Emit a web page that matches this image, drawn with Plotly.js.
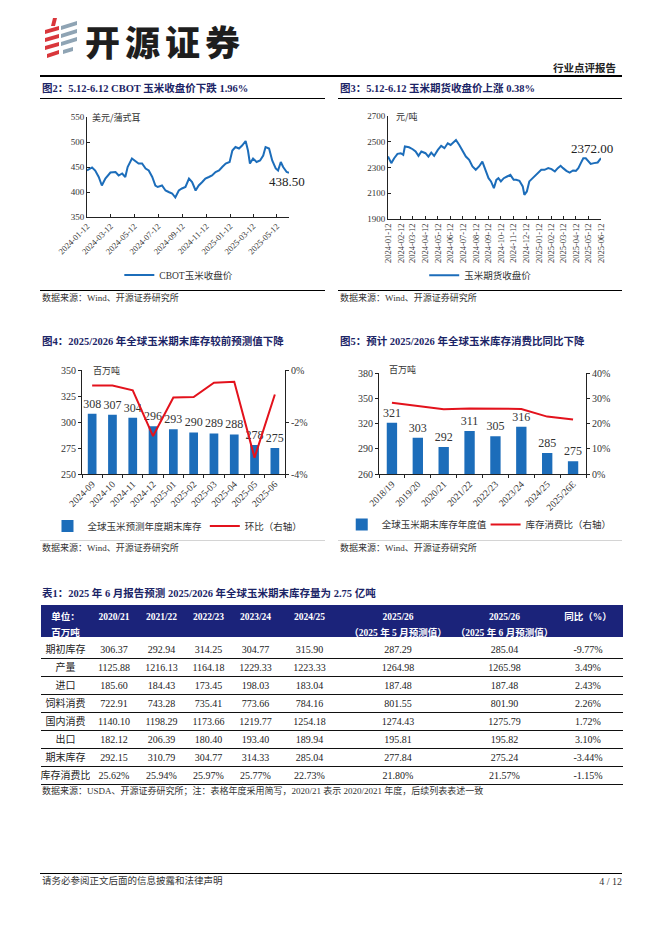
<!DOCTYPE html>
<html><head><meta charset="utf-8">
<script src="https://cdn.plot.ly/plotly-3.0.1.min.js"></script>
<style>
body{margin:0;background:#fff;}
#page{position:relative;width:662px;height:936px;overflow:hidden;background:#fff;font-family:'Liberation Serif','Noto Sans CJK SC',serif;color:#222;}
.t{position:absolute;white-space:nowrap;line-height:1;transform:translateY(-50%);}
.ftitle{font-weight:bold;color:#1b2466;font-size:10.5px;}
.rule{position:absolute;background:#000;height:1px;}
.src{font-size:9px;color:#333;}
.chart{position:absolute;}
</style></head>
<body><div id="page">
<svg style="position:absolute;left:43px;top:16px" width="40" height="44" viewBox="0 0 40 44">
  <polygon points="10,2 14,2 12,10 8,10" fill="#d9363b"/>
  <polygon points="2,14 16,10 16,14 2,18" fill="#d9363b"/>
  <polygon points="2,22 16,18 16,22 2,26" fill="#d9363b"/>
  <polygon points="2,30 16,26 16,30 2,34" fill="#d9363b"/>
  <polygon points="4,38 16,34 16,38 4,42" fill="#d9363b"/>
  <polygon points="18,10 34,5 34,9 18,14" fill="#8fa4b4"/>
  <polygon points="18,18 34,13 34,17 18,22" fill="#8fa4b4"/>
  <polygon points="18,26 34,21 34,25 18,30" fill="#8fa4b4"/>
  <polygon points="20,34 30,31 30,35 20,38" fill="#8fa4b4"/>
</svg>
<div class="t" style="left:85px;top:40px;font-family:'Noto Sans CJK SC';font-weight:900;font-size:35px;color:#1e1e1e;letter-spacing:5px;">开源证券</div>
<div class="t" style="right:46px;top:68px;font-family:'Noto Sans CJK SC';font-weight:bold;font-size:10.5px;">行业点评报告</div>
<div class="rule" style="left:40px;top:75px;width:582px;height:1.5px;"></div>

<div class="t ftitle" style="left:42px;top:89px;">图2：5.12-6.12 CBOT 玉米收盘价下跌 1.96%</div>
<div class="rule" style="left:40px;top:98px;width:285px;"></div>
<div class="t ftitle" style="left:340px;top:89px;">图3：5.12-6.12 玉米期货收盘价上涨 0.38%</div>
<div class="rule" style="left:338px;top:98px;width:284px;"></div>
<div id="c2" class="chart" style="left:30px;top:100px;width:300px;height:190px;"></div>
<div id="c3" class="chart" style="left:335px;top:100px;width:300px;height:190px;"></div>
<div class="rule" style="left:40px;top:290px;width:285px;"></div>
<div class="rule" style="left:338px;top:290px;width:284px;"></div>
<div class="t src" style="left:42px;top:298px;">数据来源：Wind、开源证券研究所</div>
<div class="t src" style="left:340px;top:298px;">数据来源：Wind、开源证券研究所</div>

<div class="t ftitle" style="left:42px;top:342px;">图4：2025/2026 年全球玉米期末库存较前预测值下降</div>
<div class="rule" style="left:40px;top:351px;width:285px;"></div>
<div class="t ftitle" style="left:340px;top:342px;">图5：预计 2025/2026 年全球玉米库存消费比同比下降</div>
<div class="rule" style="left:338px;top:351px;width:284px;"></div>
<div id="c4" class="chart" style="left:30px;top:350px;width:300px;height:190px;"></div>
<div id="c5" class="chart" style="left:335px;top:350px;width:300px;height:190px;"></div>
<div class="rule" style="left:40px;top:540px;width:285px;background:#d4d4d4;"></div>
<div class="rule" style="left:338px;top:540px;width:284px;background:#d4d4d4;"></div>
<div class="t src" style="left:42px;top:548px;">数据来源：Wind、开源证券研究所</div>
<div class="t src" style="left:340px;top:548px;">数据来源：Wind、开源证券研究所</div>

<div class="t ftitle" style="left:42px;top:594px;">表1：2025 年 6 月报告预测 2025/2026 年全球玉米期末库存量为 2.75 亿吨</div>
<div id="tbl" class="chart" style="left:41px;top:605px;width:582px;height:184px;"></div>
<div class="t src" style="left:42px;top:791px;">数据来源：USDA、开源证券研究所；注：表格年度采用简写，2020/21 表示 2020/2021 年度，后续列表表述一致</div>

<div class="rule" style="left:40px;top:873px;width:582px;"></div>
<div class="t" style="left:42px;top:882px;font-size:9.5px;color:#333;">请务必参阅正文后面的信息披露和法律声明</div>
<div class="t" style="right:40px;top:882px;font-size:10px;color:#333;">4 / 12</div>
</div>
<script>
// ---------- data ----------
var cbotDates = ['2024-01-12','2024-01-25','2024-02-02','2024-02-11','2024-02-19','2024-02-28','2024-03-12','2024-03-25','2024-04-02','2024-04-11','2024-04-19','2024-04-25','2024-05-06','2024-05-12','2024-05-23','2024-06-01','2024-06-10','2024-06-18','2024-06-27','2024-07-05','2024-07-11','2024-07-22','2024-07-31','2024-08-08','2024-08-17','2024-08-25','2024-09-03','2024-09-11','2024-09-20','2024-09-29','2024-10-07','2024-10-16','2024-10-24','2024-11-02','2024-11-10','2024-11-19','2024-11-27','2024-12-06','2024-12-15','2024-12-23','2025-01-01','2025-01-11','2025-01-18','2025-01-26','2025-02-04','2025-02-12','2025-02-21','2025-02-27','2025-03-04','2025-03-12','2025-03-21','2025-03-30','2025-04-07','2025-04-13','2025-04-22','2025-04-30','2025-05-09','2025-05-15','2025-05-22','2025-05-28','2025-06-06','2025-06-12'];
var cbotValues = [443,449,443,430,413,427,439,440,433,437,430,450,467,463,457,457,447,443,430,413,410,413,403,400,397,389,403,407,410,427,420,403,413,420,427,430,433,440,443,450,457,460,483,490,487,493,502,483,457,467,460,463,473,490,487,463,447,443,460,450,440,438.5];

var dceDates = ['2024-01-12','2024-01-20','2024-01-27','2024-02-04','2024-02-12','2024-02-18','2024-02-22','2024-03-03','2024-03-12','2024-03-19','2024-03-26','2024-04-02','2024-04-12','2024-04-19','2024-04-26','2024-05-03','2024-05-12','2024-05-20','2024-05-28','2024-06-05','2024-06-12','2024-06-20','2024-06-25','2024-07-03','2024-07-12','2024-07-19','2024-07-27','2024-08-04','2024-08-12','2024-08-20','2024-08-28','2024-09-05','2024-09-12','2024-09-18','2024-09-25','2024-10-01','2024-10-06','2024-10-12','2024-10-19','2024-10-27','2024-11-04','2024-11-12','2024-11-18','2024-11-26','2024-12-04','2024-12-08','2024-12-14','2024-12-20','2024-12-28','2025-01-05','2025-01-12','2025-01-18','2025-01-26','2025-02-04','2025-02-12','2025-02-20','2025-02-27','2025-03-06','2025-03-12','2025-03-20','2025-03-28','2025-04-05','2025-04-12','2025-04-18','2025-04-24','2025-04-30','2025-05-06','2025-05-12','2025-05-18','2025-05-26','2025-06-04','2025-06-12'];
var dceValues = [2385,2334,2372,2406,2411,2398,2463,2457,2442,2424,2390,2424,2411,2385,2416,2390,2437,2468,2450,2488,2475,2501,2514,2475,2424,2385,2359,2308,2282,2308,2346,2269,2217,2192,2140,2204,2217,2192,2217,2230,2243,2204,2204,2197,2153,2088,2114,2192,2217,2243,2269,2282,2282,2295,2287,2269,2295,2313,2295,2274,2261,2277,2274,2295,2334,2372,2372,2354,2328,2334,2339,2372];

var forecastMonths = ['2024-09','2024-10','2024-11','2024-12','2025-01','2025-02','2025-03','2025-04','2025-05','2025-06'];
var forecastStocks = [308,307,304,296,293,290,289,288,278,275];
var forecastMoM = [-0.60,-0.60,-0.78,-2.54,-1.06,-1.04,-0.49,-0.45,-3.37,-0.94];
var momTickVals = [-4,-2,0];
var momTickText = ['-4%','-2%','0%'];

var cropYears = ['2018/19','2019/20','2020/21','2021/22','2022/23','2023/24','2024/25','2025/26E'];
var cropStocks = [321,303,292,311,305,316,285,275];
var stockUseRatio = [28.2,27.0,25.62,25.94,25.97,25.77,22.73,21.57];

// non-breaking spaces keep the header notes on one line
var tableHeaderTop = ['单位：','2020/21','2021/22','2022/23','2023/24','2024/25','2025/26','2025/26','同比（%）'];
var tableHeaderBottom = ['百万吨','','','','','','（2025\u00a0年\u00a05\u00a0月预测值）','（2025\u00a0年\u00a06\u00a0月预测值）',''];
var rowLabels = ['期初库存','产量','进口','饲料消费','国内消费','出口','期末库存','库存消费比'];
var col2020 = ['306.37','1125.88','185.60','722.91','1140.10','182.12','292.15','25.62%'];
var col2021 = ['292.94','1216.13','184.43','743.28','1198.29','206.39','310.79','25.94%'];
var col2022 = ['314.25','1164.18','173.45','735.41','1173.66','180.40','304.77','25.97%'];
var col2023 = ['304.77','1229.33','198.03','773.66','1219.77','193.40','314.33','25.77%'];
var col2024 = ['315.90','1223.33','183.04','784.16','1254.18','189.94','285.04','22.73%'];
var col2025May = ['287.29','1264.98','187.48','801.55','1274.43','195.81','277.84','21.80%'];
var col2025Jun = ['285.04','1265.98','187.48','801.90','1275.79','195.82','275.24','21.57%'];
var colYoY = ['-9.77%','3.49%','2.43%','2.26%','1.72%','3.10%','-3.44%','-1.15%'];

// ---------- styles ----------
var SERIF = 'Liberation Serif, Noto Sans CJK SC, serif';
var CJK = 'Noto Sans CJK SC, Liberation Serif, sans-serif';
var BLUE = '#1c6dba';
var RED = '#e3121c';
var NAVY = '#1b237a';
var cfg = {displayModeBar:false, staticPlot:true};
function axisBase(extra){
  var a = {showline:true, linecolor:'#222', linewidth:1, showgrid:false, zeroline:false, automargin:false,
    ticks:'inside', ticklen:3, tickcolor:'#222', tickfont:{family:SERIF,size:9,color:'#333'}};
  for (var k in extra) a[k]=extra[k];
  return a;
}
function unitNote(txt, x, y){
  return {xref:'paper', yref:'paper', x:x, y:y, xanchor:'left', yanchor:'middle', showarrow:false,
    text:txt, font:{family:CJK, size:9, color:'#333'}};
}
function legendAt(x, y, fam){
  return {orientation:'h', x:x, y:y, xanchor:'left', yanchor:'middle', font:{family:fam,size:9.5,color:'#333'}, itemwidth:30, bgcolor:'rgba(0,0,0,0)'};
}

// Fig 2
var n2 = cbotValues.length;
Plotly.newPlot('c2', [{
  type:'scatter', mode:'lines', x:cbotDates, y:cbotValues, name:'CBOT玉米收盘价',
  line:{color:BLUE, width:2}
}], {
  width:300, height:190, margin:{l:57,r:41,t:17,b:73,pad:0,autoexpand:false},
  paper_bgcolor:'#fff', plot_bgcolor:'#fff',
  xaxis:axisBase({type:'date', range:['2024-01-12','2025-06-12'], tick0:'2024-01-12', dtick:'M2', tickformat:'%Y-%m-%d', tickangle:-45, tickfont:{family:SERIF,size:8.5,color:'#333'}}),
  yaxis:axisBase({range:[350,550], tick0:350, dtick:50}),
  showlegend:true,
  legend:legendAt(0.16, -0.58, SERIF),
  annotations:[unitNote('美元/蒲式耳', 0.015, 1.0),
    {x:cbotDates[n2-1], y:cbotValues[n2-1], text:cbotValues[n2-1].toFixed(2), showarrow:false, xanchor:'center', yanchor:'middle', xshift:-2, yshift:-9, font:{family:SERIF,size:13,color:'#222'}}]
}, cfg);

// Fig 3
var n3 = dceValues.length;
Plotly.newPlot('c3', [{
  type:'scatter', mode:'lines', x:dceDates, y:dceValues, name:'玉米期货收盘价',
  line:{color:BLUE, width:2}
}], {
  width:300, height:190, margin:{l:53,r:34,t:16,b:71,pad:0,autoexpand:false},
  paper_bgcolor:'#fff', plot_bgcolor:'#fff',
  xaxis:axisBase({type:'date', range:['2024-01-12','2025-06-12'], tick0:'2024-01-12', dtick:'M1', tickformat:'%Y-%m-%d', tickangle:-90, tickfont:{family:SERIF,size:8.5,color:'#333'}}),
  yaxis:axisBase({range:[1900,2700], tick0:1900, dtick:200}),
  showlegend:true,
  legend:legendAt(0.17, -0.545, SERIF),
  annotations:[unitNote('元/吨', 0.03, 1.0),
    {x:dceDates[n3-1], y:dceValues[n3-1], text:dceValues[n3-1].toFixed(2), showarrow:false, xanchor:'center', yanchor:'middle', xshift:-9, yshift:10, font:{family:SERIF,size:13,color:'#222'}}]
}, cfg);

// Fig 4
Plotly.newPlot('c4', [
  {type:'bar', x:forecastMonths, y:forecastStocks, name:'全球玉米预测年度期末库存', marker:{color:BLUE}, width:0.43,
   text:forecastStocks.map(String), textposition:'outside', constraintext:'none', cliponaxis:false, textfont:{family:SERIF,size:12,color:'#333'}, legend:'legend'},
  {type:'scatter', mode:'lines', x:forecastMonths, y:forecastMoM, yaxis:'y2', name:'环比（右轴）', line:{color:RED, width:2}, legend:'legend2'}
], {
  width:300, height:190, margin:{l:52,r:45,t:20,b:66,pad:0,autoexpand:false},
  paper_bgcolor:'#fff', plot_bgcolor:'#fff',
  xaxis:axisBase({type:'category', tickangle:-45, ticks:'outside', tickson:'boundaries', tickfont:{family:SERIF,size:9.5,color:'#333'}}),
  yaxis:axisBase({range:[250,350], tick0:250, dtick:25, ticks:'outside', tickfont:{family:SERIF,size:10,color:'#333'}}),
  yaxis2:axisBase({overlaying:'y', side:'right', range:[-4,0], tickvals:momTickVals, ticktext:momTickText, ticks:'outside', tickfont:{family:SERIF,size:10,color:'#333'}}),
  showlegend:true,
  legend:legendAt(-0.17, -0.5, CJK),
  legend2:legendAt(0.605, -0.5, CJK),
  annotations:[unitNote('百万吨', 0.045, 1.0)]
}, cfg);

// Fig 5
Plotly.newPlot('c5', [
  {type:'bar', x:cropYears, y:cropStocks, name:'全球玉米期末库存年度值', marker:{color:BLUE}, width:0.4,
   text:cropStocks.map(String), textposition:'outside', constraintext:'none', cliponaxis:false, textfont:{family:SERIF,size:12,color:'#333'}, legend:'legend'},
  {type:'scatter', mode:'lines', x:cropYears, y:stockUseRatio, yaxis:'y2', name:'库存消费比（右轴）', line:{color:RED, width:2}, legend:'legend2'}
], {
  width:300, height:190, margin:{l:44,r:49,t:23,b:66,pad:0,autoexpand:false},
  paper_bgcolor:'#fff', plot_bgcolor:'#fff',
  xaxis:axisBase({type:'category', tickangle:-45, ticks:'outside', tickson:'boundaries', tickfont:{family:SERIF,size:9.5,color:'#333'}}),
  yaxis:axisBase({range:[260,380], tick0:260, dtick:30, ticks:'outside', tickfont:{family:SERIF,size:10,color:'#333'}}),
  yaxis2:axisBase({overlaying:'y', side:'right', range:[0,40], tick0:0, dtick:10, ticksuffix:'%', ticks:'outside', tickfont:{family:SERIF,size:10,color:'#333'}}),
  showlegend:true,
  legend:legendAt(-0.18, -0.5, CJK),
  legend2:legendAt(0.515, -0.5, CJK),
  annotations:[unitNote('百万吨', 0.04, 1.03)]
}, cfg);

// Table
var HEADER_ROW_H = 16, ROW_H = 18, TBL_H = 184, TEXT_DROP = 3.5;
var headerH = 2*HEADER_ROW_H;
var shapes = [];
for (var i = 1; i <= rowLabels.length; i++) {
  var py = headerH + i*ROW_H + TEXT_DROP;
  shapes.push({type:'line', xref:'paper', yref:'paper', x0:0, x1:1, y0:1-py/TBL_H, y1:1-py/TBL_H, line:{color:'#111', width:1}});
}
var colFonts = [CJK, SERIF, SERIF, SERIF, SERIF, SERIF, SERIF, SERIF, SERIF];
var headerValues = tableHeaderTop.map(function(s, j){ return [s, tableHeaderBottom[j]]; });
Plotly.newPlot('tbl', [{
  type:'table',
  columnwidth:[49,48,47,47,47,61,116,97,70],
  header:{values:headerValues, align:'center', height:HEADER_ROW_H,
    fill:{color:NAVY}, line:{color:NAVY, width:0}, font:{family:SERIF, size:9.5, color:'#fff', weight:'bold'}},
  cells:{values:[rowLabels,col2020,col2021,col2022,col2023,col2024,col2025May,col2025Jun,colYoY], align:'center', height:ROW_H,
    fill:{color:'#fff'}, line:{color:'#fff', width:0}, font:{family:colFonts, size:10, color:'#222'}}
}], {
  width:582, height:TBL_H, margin:{l:0,r:0,t:0,b:0,autoexpand:false}, paper_bgcolor:'rgba(0,0,0,0)', shapes:shapes
}, cfg);
</script>
</body></html>
